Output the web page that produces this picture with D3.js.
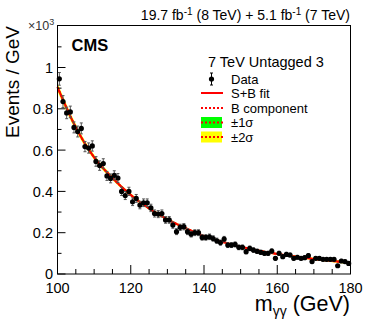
<!DOCTYPE html>
<html>
<head>
<meta charset="utf-8">
<script src="https://cdn.jsdelivr.net/npm/d3@7.9.0/dist/d3.min.js"></script>
<style>
  html, body { margin: 0; padding: 0; background: #fff; }
  svg { display: block; font-family: 'Liberation Sans', Arial, Helvetica, sans-serif; }
</style>
</head>
<body>
<svg id="chart" width="374" height="323"></svg>
<script>
// bin centres (GeV) and observed events / GeV (x10^3)
const massBins = d3.range(100.5, 180, 1);
const dataValues = [
  0.945, 0.835, 0.780, 0.785, 0.710, 0.690, 0.705, 0.617, 0.610, 0.620,
  0.545, 0.525, 0.535, 0.475, 0.463, 0.478, 0.465, 0.400, 0.380, 0.400,
  0.350, 0.366, 0.334, 0.345, 0.345, 0.320, 0.293, 0.290, 0.293, 0.262,
  0.262, 0.237, 0.205, 0.226, 0.229, 0.205, 0.193, 0.200, 0.200, 0.177,
  0.177, 0.180, 0.172, 0.161, 0.152, 0.169, 0.140, 0.140, 0.143, 0.129,
  0.129, 0.108, 0.124, 0.116, 0.110, 0.105, 0.100, 0.100, 0.111, 0.076,
  0.100, 0.084, 0.095, 0.092, 0.076, 0.081, 0.076, 0.079, 0.089, 0.060,
  0.076, 0.076, 0.071, 0.071, 0.071, 0.071, 0.040, 0.063, 0.060, 0.051
];

// fit curve read at 5 GeV steps
const fitMass = [100, 105, 110, 115, 120, 125, 130, 135, 140, 145, 150, 155, 160, 165, 170, 175, 180];
const fitValues = [0.905, 0.710, 0.565, 0.465, 0.383, 0.318, 0.265, 0.222, 0.184, 0.156,
                   0.132, 0.113, 0.097, 0.084, 0.073, 0.063, 0.054];
const sigma1 = [0.010, 0.008, 0.006, 0.005, 0.004, 0.0035, 0.003, 0.003, 0.0025, 0.0025,
                0.0025, 0.0025, 0.0025, 0.0025, 0.003, 0.003, 0.0035];
const sigma2 = sigma1.map(s => 2 * s);

const xTicks = [100, 120, 140, 160, 180];
const yTicks = [0, 0.2, 0.4, 0.6, 0.8, 1];

const svg = d3.select('#chart');

const pLeft = 57.5, pRight = 350.5, pTop = 25.5, pBottom = 274;

const x = d3.scaleLinear().domain([100, 180]).range([pLeft, pRight]);
const y = d3.scaleLinear().domain([0, 1.2]).range([pBottom, 26.2]);

const fitPts = fitMass.map((m, i) => ({ m, v: fitValues[i], s1: sigma1[i], s2: sigma2[i] }));
const curve = d3.curveMonotoneX;

const plot = svg.append('g');

// bands
plot.append('path')
  .datum(fitPts)
  .attr('fill', '#ffff00')
  .attr('d', d3.area().curve(curve).x(d => x(d.m)).y0(d => y(d.v - d.s2)).y1(d => y(d.v + d.s2)));
plot.append('path')
  .datum(fitPts)
  .attr('fill', '#00ff00')
  .attr('d', d3.area().curve(curve).x(d => x(d.m)).y0(d => y(d.v - d.s1)).y1(d => y(d.v + d.s1)));

const fitLine = d3.line().curve(curve).x(d => x(d.m)).y(d => y(d.v));

// B component (dotted) and S+B fit
plot.append('path')
  .datum(fitPts)
  .attr('fill', 'none')
  .attr('stroke', '#ff0000')
  .attr('stroke-width', 2)
  .attr('stroke-dasharray', '2,2')
  .attr('d', fitLine);
plot.append('path')
  .datum(fitPts)
  .attr('fill', 'none')
  .attr('stroke', '#ff0000')
  .attr('stroke-width', 2)
  .attr('d', fitLine);

// data points with poisson errors
const data = massBins.map((m, i) => ({ m, v: dataValues[i], e: Math.sqrt(dataValues[i] * 1000) / 1000 }));

const pts = plot.selectAll('g.pt')
  .data(data)
  .join('g')
  .attr('class', 'pt');

pts.append('line')
  .attr('x1', d => x(d.m)).attr('x2', d => x(d.m))
  .attr('y1', d => y(d.v - d.e)).attr('y2', d => y(d.v + d.e))
  .attr('stroke', '#555').attr('stroke-width', 1);
pts.append('line')
  .attr('x1', d => x(d.m) - 1.5).attr('x2', d => x(d.m) + 1.5)
  .attr('y1', d => y(d.v + d.e)).attr('y2', d => y(d.v + d.e))
  .attr('stroke', '#555').attr('stroke-width', 1);
pts.append('line')
  .attr('x1', d => x(d.m) - 1.5).attr('x2', d => x(d.m) + 1.5)
  .attr('y1', d => y(d.v - d.e)).attr('y2', d => y(d.v - d.e))
  .attr('stroke', '#555').attr('stroke-width', 1);
pts.append('circle')
  .attr('cx', d => x(d.m))
  .attr('cy', d => y(d.v))
  .attr('r', 2.6)
  .attr('fill', '#000');

// frame
svg.append('rect')
  .attr('x', pLeft).attr('y', pTop)
  .attr('width', pRight - pLeft).attr('height', pBottom - pTop)
  .attr('fill', 'none').attr('stroke', '#000').attr('stroke-width', 1);

// x ticks
const xMinor = d3.range(100, 181, 5);
svg.append('g').selectAll('line')
  .data(xMinor)
  .join('line')
  .attr('x1', d => x(d)).attr('x2', d => x(d))
  .attr('y1', pBottom).attr('y2', d => pBottom - (d % 20 === 0 ? 9 : 5))
  .attr('stroke', '#000');
svg.append('g').selectAll('text')
  .data(xTicks)
  .join('text')
  .attr('x', d => x(d)).attr('y', 292.5)
  .attr('text-anchor', 'middle')
  .attr('font-size', 14.5)
  .text(d => d);

// y ticks
const yMinor = d3.range(0, 12).map(i => i / 10);
svg.append('g').selectAll('line')
  .data(yMinor)
  .join('line')
  .attr('x1', pLeft).attr('x2', (d, i) => pLeft + (i % 2 === 0 ? 8 : 4))
  .attr('y1', d => y(d)).attr('y2', d => y(d))
  .attr('stroke', '#000');
svg.append('g').selectAll('text')
  .data(yTicks)
  .join('text')
  .attr('x', 53).attr('y', d => y(d) + (d === 0 ? 4.5 : 5.4))
  .attr('text-anchor', 'end')
  .attr('font-size', 14.5)
  .text(d => d === 0 ? '0' : d === 1 ? '1' : d3.format('.1f')(d));

// exponent
const ex = svg.append('text').attr('x', 28).attr('y', 30).attr('font-size', 12.5).attr('fill', '#333');
ex.append('tspan').text('\u00d710');
ex.append('tspan').attr('font-size', 9).attr('dy', -5).text('3');

// axis titles
svg.append('text')
  .attr('transform', 'translate(18.5,26) rotate(-90)')
  .attr('text-anchor', 'end')
  .attr('font-size', 19)
  .text('Events / GeV');

const xt = svg.append('text').attr('x', 350).attr('y', 311).attr('text-anchor', 'end').attr('font-size', 21.5);
xt.append('tspan').text('m');
xt.append('tspan').attr('font-size', 14).attr('dy', 5).text('\u03b3\u03b3');
xt.append('tspan').attr('dy', -5).text(' (GeV)');

// lumi label
const lumi = svg.append('text').attr('x', 350).attr('y', 20).attr('text-anchor', 'end').attr('font-size', 14);
lumi.append('tspan').text('19.7 fb');
lumi.append('tspan').attr('font-size', 10).attr('dy', -5).text('-1');
lumi.append('tspan').attr('dy', 5).text(' (8 TeV) + 5.1 fb');
lumi.append('tspan').attr('font-size', 10).attr('dy', -5).text('-1');
lumi.append('tspan').attr('dy', 5).text(' (7 TeV)');

svg.append('text').attr('x', 71.5).attr('y', 51).attr('font-size', 16.5).attr('font-weight', 'bold').text('CMS');
svg.append('text').attr('x', 208).attr('y', 67).attr('font-size', 14.5).text('7 TeV Untagged 3');

// legend
const legendLabels = ['Data', 'S+B fit', 'B component', '\u00b11\u03c3', '\u00b12\u03c3'];
const legendY = [79, 93, 108, 122.5, 137];
const lg = svg.append('g');
lg.selectAll('text')
  .data(legendLabels)
  .join('text')
  .attr('x', 231).attr('y', (d, i) => legendY[i] + 4.5)
  .attr('font-size', 13)
  .text(d => d);

// data marker
lg.append('line').attr('x1', 211.5).attr('x2', 211.5).attr('y1', legendY[0] - 6).attr('y2', legendY[0] + 6).attr('stroke', '#000');
lg.append('line').attr('x1', 210).attr('x2', 213).attr('y1', legendY[0] - 6).attr('y2', legendY[0] - 6).attr('stroke', '#000');
lg.append('line').attr('x1', 210).attr('x2', 213).attr('y1', legendY[0] + 6).attr('y2', legendY[0] + 6).attr('stroke', '#000');
lg.append('circle').attr('cx', 211.5).attr('cy', legendY[0]).attr('r', 2.6).attr('fill', '#000');

lg.append('line').attr('x1', 201).attr('x2', 223).attr('y1', legendY[1]).attr('y2', legendY[1])
  .attr('stroke', '#ff0000').attr('stroke-width', 2);
lg.append('line').attr('x1', 201).attr('x2', 223).attr('y1', legendY[2]).attr('y2', legendY[2])
  .attr('stroke', '#ff0000').attr('stroke-width', 2).attr('stroke-dasharray', '2,2');

[['#00ff00', legendY[3]], ['#ffff00', legendY[4]]].forEach(([c, cy]) => {
  lg.append('rect').attr('x', 201).attr('y', cy - 5.5).attr('width', 21).attr('height', 11).attr('fill', c);
  lg.append('line').attr('x1', 201).attr('x2', 223).attr('y1', cy).attr('y2', cy)
    .attr('stroke', '#ff0000').attr('stroke-width', 2).attr('stroke-dasharray', '2,2');
});
</script>
</body>
</html>
